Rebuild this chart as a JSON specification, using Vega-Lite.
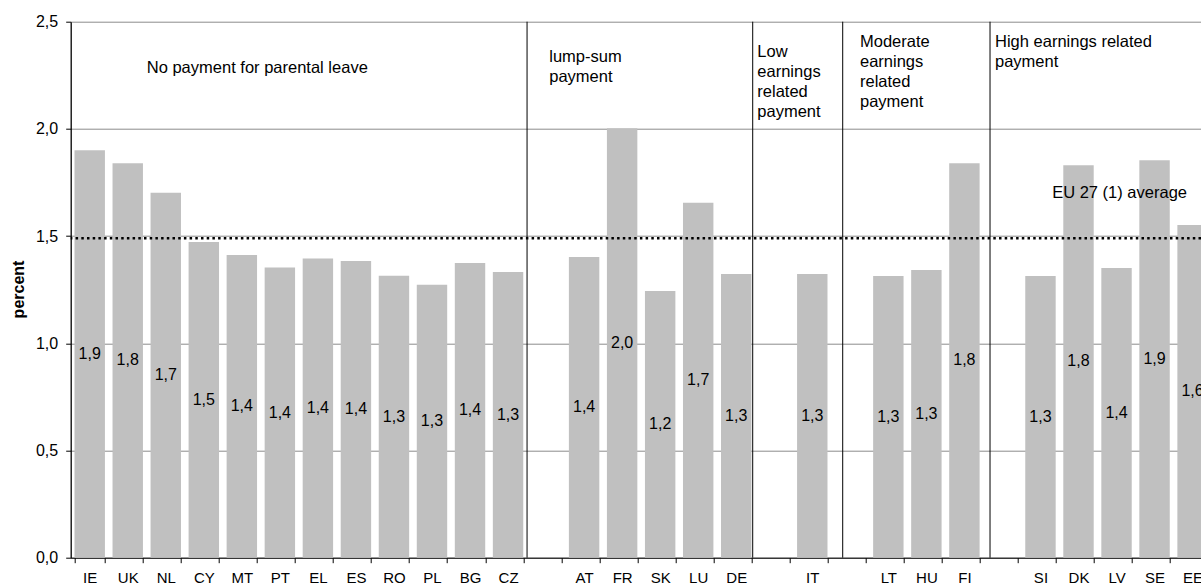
{
  "$schema": "https://vega.github.io/schema/vega-lite/v6.json",
  "autosize": "none",
  "width": 1130.3,
  "height": 536,
  "padding": {"left": 70.7, "top": 21.7, "right": 0, "bottom": 27.3},
  "background": "white",
  "config": {
    "locale": {"number": {"decimal": ",", "thousands": ".", "grouping": [3], "currency": ["", " €"]}},
    "view": {"stroke": null},
    "font": "Liberation Sans"
  },
  "data": {
    "values": [
      {"country": "IE", "value": 1.901},
      {"country": "UK", "value": 1.84},
      {"country": "NL", "value": 1.702},
      {"country": "CY", "value": 1.472},
      {"country": "MT", "value": 1.412},
      {"country": "PT", "value": 1.353},
      {"country": "EL", "value": 1.395},
      {"country": "ES", "value": 1.384},
      {"country": "RO", "value": 1.315},
      {"country": "PL", "value": 1.273},
      {"country": "BG", "value": 1.375},
      {"country": "CZ", "value": 1.333},
      {"country": "AT", "value": 1.403},
      {"country": "FR", "value": 2.003},
      {"country": "SK", "value": 1.244},
      {"country": "LU", "value": 1.656},
      {"country": "DE", "value": 1.323},
      {"country": "IT", "value": 1.323},
      {"country": "LT", "value": 1.314},
      {"country": "HU", "value": 1.342},
      {"country": "FI", "value": 1.84},
      {"country": "SI", "value": 1.314},
      {"country": "DK", "value": 1.831},
      {"country": "LV", "value": 1.351},
      {"country": "SE", "value": 1.854},
      {"country": "EE", "value": 1.552}
    ]
  },
  "layer": [
    {
      "mark": {"type": "bar", "color": "#c0c0c0"},
      "encoding": {
        "x": {
          "field": "country", "type": "nominal", "sort": null,
          "scale": {
            "domain": ["IE","UK","NL","CY","MT","PT","EL","ES","RO","PL","BG","CZ"," ","AT","FR","SK","LU","DE","  ","IT","   ","LT","HU","FI","    ","SI","DK","LV","SE","EE"],
            "range": [0, 1140.9], "paddingInner": 0.2, "paddingOuter": 0.1
          },
          "axis": {
            "title": null, "labelAngle": 0, "tickBand": "extent", "tickSize": 5, "tickColor": "black",
            "domainColor": "black", "domainWidth": 1, "labelFontSize": 15, "labelColor": "black",
            "labelPadding": 8, "labelOverlap": false, "labelFlush": false, "labelBound": false, "grid": false
          }
        },
        "y": {
          "field": "value", "type": "quantitative",
          "scale": {"domain": [0, 2.5], "nice": false, "zero": true},
          "axis": {
            "title": "percent", "values": [0, 0.5, 1, 1.5, 2, 2.5], "format": ".1f",
            "labelFontSize": 16, "labelColor": "black", "tickSize": 5, "tickColor": "black",
            "domainColor": "black", "domainWidth": 1.3, "labelPadding": 8,
            "grid": true, "gridColor": "#8c8c8c", "gridWidth": 1,
            "titleFontSize": 16, "titleFontWeight": "bold", "titleColor": "black",
            "titleX": -52.4, "titleY": 267.3, "titleAngle": -90, "titleBaseline": "middle", "titleAlign": "center"
          }
        }
      }
    },
    {
      "mark": {"type": "text", "fontSize": 16, "baseline": "middle", "align": "center", "color": "black"},
      "encoding": {
        "x": {"field": "country", "type": "nominal"},
        "y": {"field": "value", "type": "quantitative", "scale": {"domain": [0, 5], "nice": false}, "axis": null},
        "text": {"field": "value", "type": "quantitative", "format": ".1f"}
      }
    },
    {
      "data": {"values": [{}]},
      "mark": {"type": "rule", "color": "black", "strokeWidth": 2.5, "strokeDash": [2.5, 3.2]},
      "encoding": {"y": {"datum": 1.49, "type": "quantitative", "scale": {"domain": [0, 2.5], "nice": false}}}
    },
    {
      "data": {"values": [{}]},
      "mark": {"type": "rule", "color": "black", "strokeWidth": 1},
      "encoding": {"x": {"datum": "CZ", "type": "nominal", "bandPosition": 1.125}}
    },
    {
      "data": {"values": [{}]},
      "mark": {"type": "rule", "color": "black", "strokeWidth": 1},
      "encoding": {"x": {"datum": "DE", "type": "nominal", "bandPosition": 1.042}}
    },
    {
      "data": {"values": [{}]},
      "mark": {"type": "rule", "color": "black", "strokeWidth": 1},
      "encoding": {"x": {"datum": "   ", "type": "nominal", "bandPosition": 0.25}}
    },
    {
      "data": {"values": [{}]},
      "mark": {"type": "rule", "color": "black", "strokeWidth": 1},
      "encoding": {"x": {"datum": "    ", "type": "nominal", "bandPosition": 0.092}}
    },
    {
      "data": {"values": [{}]},
      "mark": {"type": "text", "align": "left", "baseline": "middle", "fontSize": 16.5, "lineHeight": 20, "color": "black"},
      "encoding": {
        "x": {"datum": "NL", "type": "nominal", "bandPosition": -0.125},
        "y": {"datum": 2.283, "type": "quantitative", "scale": {"domain": [0, 2.5], "nice": false}},
        "text": {"value": "No payment for parental leave"}
      }
    },
    {
      "data": {"values": [{}]},
      "mark": {"type": "text", "align": "left", "baseline": "middle", "fontSize": 16.5, "lineHeight": 20, "color": "black"},
      "encoding": {
        "x": {"datum": " ", "type": "nominal", "bandPosition": 0.605},
        "y": {"datum": 2.334, "type": "quantitative", "scale": {"domain": [0, 2.5], "nice": false}},
        "text": {"value": ["lump-sum", "payment"]}
      }
    },
    {
      "data": {"values": [{}]},
      "mark": {"type": "text", "align": "left", "baseline": "middle", "fontSize": 16.5, "lineHeight": 20, "color": "black"},
      "encoding": {
        "x": {"datum": "  ", "type": "nominal", "bandPosition": -0.056},
        "y": {"datum": 2.36, "type": "quantitative", "scale": {"domain": [0, 2.5], "nice": false}},
        "text": {"value": ["Low", "earnings", "related", "payment"]}
      }
    },
    {
      "data": {"values": [{}]},
      "mark": {"type": "text", "align": "left", "baseline": "middle", "fontSize": 16.5, "lineHeight": 20, "color": "black"},
      "encoding": {
        "x": {"datum": "   ", "type": "nominal", "bandPosition": 0.818},
        "y": {"datum": 2.407, "type": "quantitative", "scale": {"domain": [0, 2.5], "nice": false}},
        "text": {"value": ["Moderate", "earnings", "related", "payment"]}
      }
    },
    {
      "data": {"values": [{}]},
      "mark": {"type": "text", "align": "left", "baseline": "middle", "fontSize": 16.5, "lineHeight": 20, "color": "black"},
      "encoding": {
        "x": {"datum": "    ", "type": "nominal", "bandPosition": 0.256},
        "y": {"datum": 2.407, "type": "quantitative", "scale": {"domain": [0, 2.5], "nice": false}},
        "text": {"value": ["High earnings related", "payment"]}
      }
    },
    {
      "data": {"values": [{}]},
      "mark": {"type": "text", "align": "center", "baseline": "middle", "fontSize": 16.5, "color": "black"},
      "encoding": {
        "x": {"datum": "LV", "type": "nominal", "bandPosition": 0.6},
        "y": {"datum": 1.7, "type": "quantitative", "scale": {"domain": [0, 2.5], "nice": false}},
        "text": {"value": "EU 27 (1) average"}
      }
    }
  ],
  "resolve": {"scale": {"y": "independent"}}
}
